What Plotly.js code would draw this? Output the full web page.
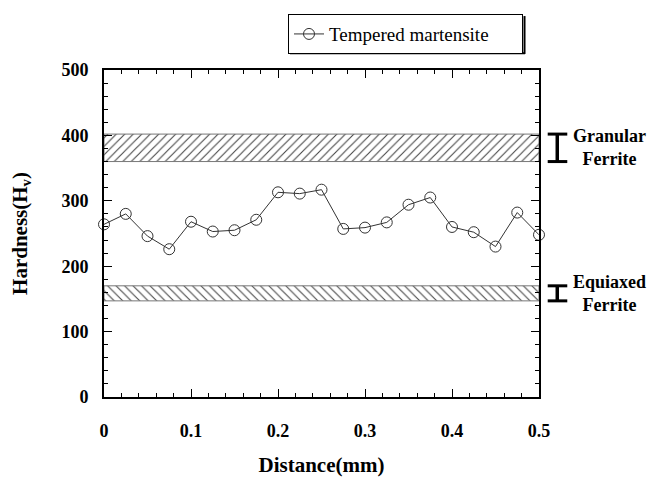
<!DOCTYPE html>
<html>
<head>
<meta charset="utf-8">
<script src="https://cdn.plot.ly/plotly-3.0.1.min.js"></script>
<style>html,body{margin:0;padding:0;background:#fff;}#chart{width:649px;height:479px;}</style>
</head>
<body>
<div id="chart"></div>
<script>
// Data
const distance = [0, 0.025, 0.05, 0.075, 0.1, 0.125, 0.15, 0.175, 0.2, 0.225, 0.25,
                  0.275, 0.3, 0.325, 0.35, 0.375, 0.4, 0.425, 0.45, 0.475, 0.5];
const hardness = [264, 280, 246, 226, 268, 253, 255, 271, 313, 311, 317,
                  257, 259, 267, 294, 305, 260, 252, 230, 282, 248];
const seriesName = 'Tempered martensite';
const granularRange = [360, 402];
const equiaxedRange = [147, 170];
const bandLabels = ['Granular<br>Ferrite', 'Equiaxed<br>Ferrite'];
const xTicks = [0, 0.1, 0.2, 0.3, 0.4, 0.5];
const xTickText = ['0', '0.1', '0.2', '0.3', '0.4', '0.5'];
const yTicks = [0, 100, 200, 300, 400, 500];

const serif = 'Liberation Serif, Times New Roman, serif';
const xMin = distance[0], xMax = distance[distance.length - 1];

function band(range, shape) {
  return {
    x: [xMin, xMax, xMax, xMin, xMin],
    y: [range[0], range[0], range[1], range[1], range[0]],
    type: 'scatter', mode: 'lines', fill: 'toself',
    fillcolor: 'white',
    fillpattern: {shape: shape, fgcolor: '#444', bgcolor: 'white', size: 6, solidity: 0.18},
    line: {color: '#777', width: 1},
    showlegend: false, hoverinfo: 'skip'
  };
}

const traces = [
  band(granularRange, '/'),
  band(equiaxedRange, '\\'),
  {
    x: distance, y: hardness, name: seriesName,
    type: 'scatter', mode: 'lines+markers',
    line: {color: '#333', width: 1},
    marker: {symbol: 'circle-open', size: 11, color: '#333', line: {width: 1}},
    cliponaxis: false
  }
];

const capL = 1.020, capR = 1.065, capC = 1.042;
function ibar(range) {
  return [
    {type: 'line', xref: 'paper', yref: 'y', x0: capC, x1: capC, y0: range[0], y1: range[1], line: {color: 'black', width: 3.5}},
    {type: 'line', xref: 'paper', yref: 'y', x0: capL, x1: capR, y0: range[0], y1: range[0], line: {color: 'black', width: 3}},
    {type: 'line', xref: 'paper', yref: 'y', x0: capL, x1: capR, y0: range[1], y1: range[1], line: {color: 'black', width: 3}}
  ];
}
// legend drop shadow (right and bottom edges)
const legendShadow = [
  {type: 'line', xref: 'paper', yref: 'paper', x0: 0.4276, x1: 0.9678, y0: 1.051, y1: 1.051, line: {color: 'black', width: 2}},
  {type: 'line', xref: 'paper', yref: 'paper', x0: 0.9667, x1: 0.9667, y0: 1.165, y1: 1.049, line: {color: 'black', width: 2}}
];

const layout = {
  width: 649, height: 479,
  margin: {l: 104, r: 110, t: 70, b: 82},
  paper_bgcolor: 'white', plot_bgcolor: 'white',
  showlegend: true,
  legend: {
    x: 0.423, y: 1.171, xanchor: 'left', yanchor: 'top',
    orientation: 'h',
    entrywidth: 188,
    bgcolor: 'white', bordercolor: 'black', borderwidth: 1,
    font: {family: serif, size: 19, color: 'black'}
  },
  xaxis: {
    range: [xMin, xMax],
    tickvals: xTicks, ticktext: xTickText,
    ticks: 'inside', ticklen: 8, tickwidth: 1, tickcolor: 'black',
    minor: {dtick: 0.02, ticks: 'inside', ticklen: 4, tickcolor: 'black'},
    showline: true, linecolor: 'black', linewidth: 2, mirror: 'allticks',
    showgrid: false, zeroline: false,
    ticklabelstandoff: 16,
    tickfont: {family: serif, size: 18, color: 'black', weight: 'bold'},
    title: {text: 'Distance(mm)', standoff: 18, font: {family: serif, size: 21, color: 'black', weight: 'bold'}}
  },
  yaxis: {
    range: [0, 500],
    tickvals: yTicks,
    ticks: 'inside', ticklen: 8, tickwidth: 1, tickcolor: 'black',
    minor: {dtick: 20, ticks: 'inside', ticklen: 4, tickcolor: 'black'},
    showline: true, linecolor: 'black', linewidth: 2, mirror: 'allticks',
    showgrid: false, zeroline: false,
    ticklabelstandoff: 10,
    tickfont: {family: serif, size: 18, color: 'black', weight: 'bold'},
    title: {text: 'Hardness(H<sub>v</sub>)', standoff: 28, font: {family: serif, size: 21, color: 'black', weight: 'bold'}}
  },
  shapes: [].concat(ibar(granularRange), ibar(equiaxedRange), legendShadow),
  annotations: [
    {xref: 'paper', yref: 'y', x: 1.162, y: (granularRange[0] + granularRange[1]) / 2, text: bandLabels[0], showarrow: false,
     xanchor: 'center', yanchor: 'middle',
     font: {family: serif, size: 18, color: 'black', weight: 'bold'}, align: 'center'},
    {xref: 'paper', yref: 'y', x: 1.162, y: (equiaxedRange[0] + equiaxedRange[1]) / 2, text: bandLabels[1], showarrow: false,
     xanchor: 'center', yanchor: 'middle',
     font: {family: serif, size: 18, color: 'black', weight: 'bold'}, align: 'center'}
  ]
};

Plotly.newPlot('chart', traces, layout, {displayModeBar: false, staticPlot: true});
</script>
</body>
</html>
